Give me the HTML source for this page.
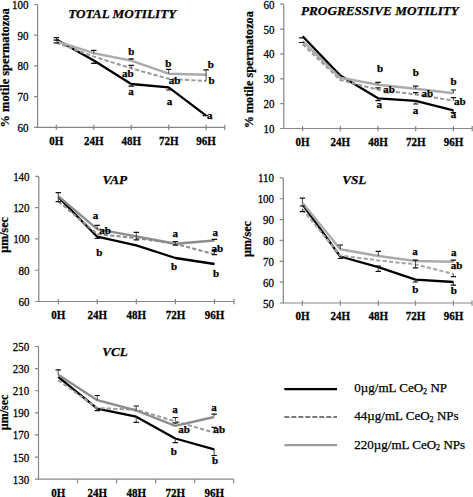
<!DOCTYPE html><html><head><meta charset="utf-8"><style>
html,body{margin:0;padding:0;background:#fff;width:473px;height:497px;overflow:hidden}
svg{display:block}
text{font-family:"Liberation Serif",serif;fill:#000;stroke:#000;stroke-width:0.25px}
.tl{font-size:11px;text-anchor:end}
.xl{font-size:11px;font-weight:bold;text-anchor:middle}
.tt{font-size:13.2px;font-weight:bold;font-style:italic}
.yl{font-weight:bold;text-anchor:middle}
.lb{font-size:11px;font-weight:bold;text-anchor:middle}
.lg{font-size:13px}
</style></head><body>
<svg width="473" height="497" viewBox="0 0 473 497">
<rect width="473" height="497" fill="#fff"/>
<g><path d="M37.6 4.5V127.3H224.8" fill="none" stroke="#868686" stroke-width="1.2"/><text class="tl" transform="translate(28.4 131.8) scale(1 1.12)">60</text><text class="tl" transform="translate(28.4 101.1) scale(1 1.12)">70</text><text class="tl" transform="translate(28.4 70.4) scale(1 1.12)">80</text><text class="tl" transform="translate(28.4 39.7) scale(1 1.12)">90</text><text class="tl" transform="translate(28.4 9) scale(1 1.12)">100</text><path d="M34 127.3H37.6M34 96.6H37.6M34 65.9H37.6M34 35.2H37.6M34 4.5H37.6M56.3 124.7V130.1M93.8 124.7V130.1M131.2 124.7V130.1M168.7 124.7V130.1M206.1 124.7V130.1M224.8 124.7V130.1" fill="none" stroke="#868686" stroke-width="1.2"/><text class="xl" transform="translate(56.3 144.6) scale(1 1.06)">0H</text><text class="xl" transform="translate(93.8 144.6) scale(1 1.06)">24H</text><text class="xl" transform="translate(131.2 144.6) scale(1 1.06)">48H</text><text class="xl" transform="translate(168.7 144.6) scale(1 1.06)">72H</text><text class="xl" transform="translate(206.1 144.6) scale(1 1.06)">96H</text><text class="tt" transform="translate(68.2 18.4) scale(1 1.0)">TOTAL MOTILITY</text><text class="yl" style="font-size:12.4px" transform="translate(8.6 67.85) rotate(-90)" x="0" y="0">% motile spermatozoa</text><polyline points="56.3,39.6 93.8,60.5 131.2,84 168.7,87.3 206.1,115.6" fill="none" stroke="#000" stroke-width="2.3" stroke-linejoin="round"/><polyline points="56.3,42.6 93.8,56.6 131.2,68.3 168.7,78.8 206.1,81" fill="none" stroke="#9a9a9a" stroke-width="2" stroke-dasharray="4.2 2.2"/><polyline points="56.3,41.2 93.8,53.2 131.2,60.6 168.7,73.7 206.1,74.8" fill="none" stroke="#ababab" stroke-width="2.4" stroke-linejoin="round"/><path d="M56.3 41V37.6M93.8 53.5V50.3M93.8 60V63.3M131.2 60V58.8M131.2 68.3V65.3M131.2 84V86.2M168.7 73.7V69.4M168.7 87.7V90M206.1 81V69.8" fill="none" stroke="#333" stroke-width="0.9"/><path d="M53.6 37.6H59M53.6 40.2H59M53.6 42.8H59M91.1 50.3H96.5M91.1 63.3H96.5M128.5 58.8H133.9M128.5 65.3H133.9M128.5 86.2H133.9M166 69.4H171.4M166 90H171.4M203.4 69.8H208.8M202.7 115.6H208.1" fill="none" stroke="#111" stroke-width="1.2"/><text class="lb" transform="translate(131.3 55.3) scale(1 1.0)">b</text><text class="lb" transform="translate(127.9 77.3) scale(1 1.0)">ab</text><text class="lb" transform="translate(131.1 95.2) scale(1 1.0)">a</text><text class="lb" transform="translate(168.3 67.2) scale(1 1.0)">b</text><text class="lb" transform="translate(174.6 83.8) scale(1 1.0)">ab</text><text class="lb" transform="translate(169.5 104.6) scale(1 1.0)">a</text><text class="lb" transform="translate(210.8 67.9) scale(1 1.0)">b</text><text class="lb" transform="translate(211.6 84.1) scale(1 1.0)">b</text><text class="lb" transform="translate(209.7 118.8) scale(1 1.0)">a</text></g>
<g><path d="M283.8 4.2V128.5H472.2" fill="none" stroke="#868686" stroke-width="1.2"/><text class="tl" transform="translate(274.6 133) scale(1 1.12)">10</text><text class="tl" transform="translate(274.6 108.14) scale(1 1.12)">20</text><text class="tl" transform="translate(274.6 83.28) scale(1 1.12)">30</text><text class="tl" transform="translate(274.6 58.42) scale(1 1.12)">40</text><text class="tl" transform="translate(274.6 33.56) scale(1 1.12)">50</text><text class="tl" transform="translate(274.6 8.7) scale(1 1.12)">60</text><path d="M280.2 128.5H283.8M280.2 103.64H283.8M280.2 78.78H283.8M280.2 53.92H283.8M280.2 29.06H283.8M280.2 4.2H283.8M302.6 125.9V131.3M340.3 125.9V131.3M378 125.9V131.3M415.7 125.9V131.3M453.4 125.9V131.3M472.2 125.9V131.3" fill="none" stroke="#868686" stroke-width="1.2"/><text class="xl" transform="translate(302.6 145.8) scale(1 1.06)">0H</text><text class="xl" transform="translate(340.3 145.8) scale(1 1.06)">24H</text><text class="xl" transform="translate(378 145.8) scale(1 1.06)">48H</text><text class="xl" transform="translate(415.7 145.8) scale(1 1.06)">72H</text><text class="xl" transform="translate(453.4 145.8) scale(1 1.06)">96H</text><text class="tt" transform="translate(301 15.1) scale(1 1.0)">PROGRESSIVE MOTILITY</text><text class="yl" style="font-size:12.2px" transform="translate(252.6 69.8) rotate(-90)" x="0" y="0">% motile spermatozoa</text><polyline points="302.6,36.3 340.3,75.6 378,98.3 415.7,100.8 453.4,110.3" fill="none" stroke="#000" stroke-width="2.3" stroke-linejoin="round"/><polyline points="302.6,44.2 340.3,80 378,89.7 415.7,94.5 453.4,100.6" fill="none" stroke="#9a9a9a" stroke-width="2" stroke-dasharray="4.2 2.2"/><polyline points="302.6,41.1 340.3,77.8 378,84.7 415.7,88.7 453.4,93.2" fill="none" stroke="#ababab" stroke-width="2.4" stroke-linejoin="round"/><path d="M378 84.7V82.4M378 89.7V87.9M378 98.4V100.6M415.7 88.8V86.2M415.7 94.5V92.6M415.7 100.8V104M453.4 93.2V90M453.4 100.6V97.7M453.4 110.4V112.5" fill="none" stroke="#333" stroke-width="0.9"/><path d="M298.9 37.9H304.3M298.9 42.5H304.3M375.3 82.4H380.7M375.3 87.9H380.7M375.3 100.6H380.7M413 86.2H418.4M413 92.6H418.4M413 104H418.4M450.7 90H456.1M450.7 97.7H456.1M450.7 112.5H456.1" fill="none" stroke="#111" stroke-width="1.2"/><text class="lb" transform="translate(380 72.3) scale(1 1.0)">b</text><text class="lb" transform="translate(389 93.4) scale(1 1.0)">ab</text><text class="lb" transform="translate(379.3 108.3) scale(1 1.0)">a</text><text class="lb" transform="translate(415.9 76) scale(1 1.0)">b</text><text class="lb" transform="translate(427.2 96.5) scale(1 1.0)">ab</text><text class="lb" transform="translate(415.6 114) scale(1 1.0)">a</text><text class="lb" transform="translate(453.6 84.5) scale(1 1.0)">b</text><text class="lb" transform="translate(459.7 104.9) scale(1 1.0)">ab</text><text class="lb" transform="translate(453.6 117.8) scale(1 1.0)">a</text></g>
<g><path d="M38.8 176.4V301.5H234" fill="none" stroke="#868686" stroke-width="1.2"/><text class="tl" transform="translate(29.6 306) scale(1 1.12)">60</text><text class="tl" transform="translate(29.6 274.73) scale(1 1.12)">80</text><text class="tl" transform="translate(29.6 243.45) scale(1 1.12)">100</text><text class="tl" transform="translate(29.6 212.18) scale(1 1.12)">120</text><text class="tl" transform="translate(29.6 180.9) scale(1 1.12)">140</text><path d="M35.2 301.5H38.8M35.2 270.23H38.8M35.2 238.95H38.8M35.2 207.68H38.8M35.2 176.4H38.8M58.3 298.9V304.3M97.2 298.9V304.3M136.3 298.9V304.3M175.4 298.9V304.3M214.5 298.9V304.3M234 298.9V304.3" fill="none" stroke="#868686" stroke-width="1.2"/><text class="xl" transform="translate(58.3 318.8) scale(1 1.06)">0H</text><text class="xl" transform="translate(97.2 318.8) scale(1 1.06)">24H</text><text class="xl" transform="translate(136.3 318.8) scale(1 1.06)">48H</text><text class="xl" transform="translate(175.4 318.8) scale(1 1.06)">72H</text><text class="xl" transform="translate(214.5 318.8) scale(1 1.06)">96H</text><text class="tt" transform="translate(102.4 184.4) scale(1 1.0)">VAP</text><text class="yl" style="font-size:12px" transform="translate(8.4 235) rotate(-90)" x="0" y="0">µm/sec</text><polyline points="58.3,196.9 97.2,236.7 136.3,245.4 175.4,258 214.5,264" fill="none" stroke="#000" stroke-width="2.3" stroke-linejoin="round"/><polyline points="58.3,201.2 97.2,234.1 136.3,238.1 175.4,243.7 214.5,254.4" fill="none" stroke="#8c8c8c" stroke-width="2" stroke-dasharray="4.2 2.2"/><polyline points="58.3,196.1 97.2,229.1 136.3,236.4 175.4,243.7 214.5,240.5" fill="none" stroke="#8c8c8c" stroke-width="2.4" stroke-linejoin="round"/><path d="M58.3 196.5V192.7M58.3 197V201.7M97.2 229V225.3M97.2 236.7V238.5M136.3 236.5V232.4M136.3 236.5V239.8M175.4 243.5V241.5M175.4 243.5V245.1M214.5 240V239.4M214.5 253V250M214.5 253V254.6" fill="none" stroke="#333" stroke-width="0.9"/><path d="M55.6 192.7H61M55.6 201.7H61M94.5 225.3H99.9M94.5 238.5H99.9M133.6 232.4H139M133.6 239.8H139M172.7 241.5H178.1M172.7 245.1H178.1M211.8 239.4H217.2M211.8 250H217.2M211.8 254.6H217.2" fill="none" stroke="#111" stroke-width="1.2"/><text class="lb" transform="translate(95.4 219.4) scale(1 1.0)">a</text><text class="lb" transform="translate(105.1 233.8) scale(1 1.0)">ab</text><text class="lb" transform="translate(99.3 255.7) scale(1 1.0)">b</text><text class="lb" transform="translate(175.2 237) scale(1 1.0)">a</text><text class="lb" transform="translate(174 270.3) scale(1 1.0)">b</text><text class="lb" transform="translate(215.3 235.5) scale(1 1.0)">a</text><text class="lb" transform="translate(217.3 252) scale(1 1.0)">ab</text><text class="lb" transform="translate(216 277.1) scale(1 1.0)">b</text></g>
<g><path d="M283.3 177.9V303H472" fill="none" stroke="#868686" stroke-width="1.2"/><text class="tl" transform="translate(274.1 307.5) scale(1 1.12)">50</text><text class="tl" transform="translate(274.1 286.65) scale(1 1.12)">60</text><text class="tl" transform="translate(274.1 265.8) scale(1 1.12)">70</text><text class="tl" transform="translate(274.1 244.95) scale(1 1.12)">80</text><text class="tl" transform="translate(274.1 224.1) scale(1 1.12)">90</text><text class="tl" transform="translate(274.1 203.25) scale(1 1.12)">100</text><text class="tl" transform="translate(274.1 182.4) scale(1 1.12)">110</text><path d="M279.7 303H283.3M279.7 282.15H283.3M279.7 261.3H283.3M279.7 240.45H283.3M279.7 219.6H283.3M279.7 198.75H283.3M279.7 177.9H283.3M302.4 300.4V305.8M340.3 300.4V305.8M378.3 300.4V305.8M415.5 300.4V305.8M453.4 300.4V305.8M472 300.4V305.8" fill="none" stroke="#868686" stroke-width="1.2"/><text class="xl" transform="translate(302.4 320.3) scale(1 1.06)">0H</text><text class="xl" transform="translate(340.3 320.3) scale(1 1.06)">24H</text><text class="xl" transform="translate(378.3 320.3) scale(1 1.06)">48H</text><text class="xl" transform="translate(415.5 320.3) scale(1 1.06)">72H</text><text class="xl" transform="translate(453.4 320.3) scale(1 1.06)">96H</text><text class="tt" transform="translate(342.2 184.4) scale(1 1.0)">VSL</text><text class="yl" style="font-size:12.1px" transform="translate(250.8 239) rotate(-90)" x="0" y="0">µm/sec</text><polyline points="302.4,204.4 340.3,256.5 378.3,267.1 415.5,279.6 453.4,282" fill="none" stroke="#000" stroke-width="2.3" stroke-linejoin="round"/><polyline points="302.4,209.3 340.3,255.5 378.3,260.4 415.5,264.4 453.4,273.9" fill="none" stroke="#a5a5a5" stroke-width="2" stroke-dasharray="4.2 2.2"/><polyline points="302.4,202.7 340.3,249.2 378.3,256 415.5,261 453.4,261.7" fill="none" stroke="#ababab" stroke-width="2.4" stroke-linejoin="round"/><path d="M302.4 203V198.1M302.4 208.6V211.7M340.3 249.2V245M340.3 256.5V258.5M378.3 256V251.3M378.3 267.1V266.1M378.3 267.1V271.4M415.5 263.6V260.2M415.5 263.6V267.8M415.5 279.6V282M453.4 261.7V260.2M453.4 274V276.7M453.4 282V285.2" fill="none" stroke="#333" stroke-width="0.9"/><path d="M299.7 198.1H305.1M299.7 206H305.1M299.7 211.7H305.1M337.6 245H343M337.6 258.5H343M375.6 251.3H381M375.6 266.1H381M375.6 271.4H381M412.8 260.2H418.2M412.8 267.8H418.2M412.8 282H418.2M450.7 260.2H456.1M450.7 276.7H456.1M450.7 285.2H456.1" fill="none" stroke="#111" stroke-width="1.2"/><text class="lb" transform="translate(415 254.7) scale(1 1.0)">a</text><text class="lb" transform="translate(415.3 292.6) scale(1 1.0)">b</text><text class="lb" transform="translate(453.7 256.4) scale(1 1.0)">a</text><text class="lb" transform="translate(456.5 269.1) scale(1 1.0)">ab</text><text class="lb" transform="translate(453.8 293.8) scale(1 1.0)">b</text></g>
<g><path d="M38.5 346.5V479.2H233.7" fill="none" stroke="#868686" stroke-width="1.2"/><text class="tl" transform="translate(29.3 483.7) scale(1 1.12)">130</text><text class="tl" transform="translate(29.3 461.58) scale(1 1.12)">150</text><text class="tl" transform="translate(29.3 439.47) scale(1 1.12)">170</text><text class="tl" transform="translate(29.3 417.35) scale(1 1.12)">190</text><text class="tl" transform="translate(29.3 395.23) scale(1 1.12)">210</text><text class="tl" transform="translate(29.3 373.12) scale(1 1.12)">230</text><text class="tl" transform="translate(29.3 351) scale(1 1.12)">250</text><path d="M34.9 479.2H38.5M34.9 457.08H38.5M34.9 434.97H38.5M34.9 412.85H38.5M34.9 390.73H38.5M34.9 368.62H38.5M34.9 346.5H38.5M77.54 479.2V483.2M116.58 479.2V483.2M155.62 479.2V483.2M194.66 479.2V483.2M233.7 479.2V483.2" fill="none" stroke="#868686" stroke-width="1.2"/><text class="xl" transform="translate(58.2 496.5) scale(1 1.06)">0H</text><text class="xl" transform="translate(97.3 496.5) scale(1 1.06)">24H</text><text class="xl" transform="translate(136.2 496.5) scale(1 1.06)">48H</text><text class="xl" transform="translate(175.3 496.5) scale(1 1.06)">72H</text><text class="xl" transform="translate(214.2 496.5) scale(1 1.06)">96H</text><text class="tt" transform="translate(102.2 356) scale(1 1.0)">VCL</text><text class="yl" style="font-size:12px" transform="translate(8.2 412.5) rotate(-90)" x="0" y="0">µm/sec</text><polyline points="58.2,376.9 97.3,408.6 136.2,416.7 175.3,438.5 214.2,449.4" fill="none" stroke="#000" stroke-width="2.3" stroke-linejoin="round"/><polyline points="58.2,380.1 97.3,408 136.2,409.7 175.3,421.3 214.2,432.6" fill="none" stroke="#9a9a9a" stroke-width="2" stroke-dasharray="4.2 2.2"/><polyline points="58.2,374.8 97.3,400.2 136.2,410.5 175.3,425.8 214.2,417" fill="none" stroke="#8c8c8c" stroke-width="2.4" stroke-linejoin="round"/><path d="M58.2 374.8V369.9M97.3 400.2V395.5M97.3 408.6V410.7M136.2 410.5V406M136.2 416.7V422.4M175.3 421.3V417.5M175.3 424V422.9M175.3 439.5V442.6M214.2 416.2V414.1M214.2 432.7V427.4M214.2 449V455.5" fill="none" stroke="#333" stroke-width="0.9"/><path d="M55.5 369.9H60.9M94.6 395.5H100M94.6 410.7H100M133.5 406H138.9M133.5 422.4H138.9M172.6 417.5H178M172.6 422.9H178M172.6 442.6H178M211.5 414.1H216.9M211.5 427.4H216.9M211.5 455.5H216.9" fill="none" stroke="#111" stroke-width="1.2"/><text class="lb" transform="translate(174.9 413) scale(1 1.0)">a</text><text class="lb" transform="translate(184 433.2) scale(1 1.0)">ab</text><text class="lb" transform="translate(173.7 454.8) scale(1 1.0)">b</text><text class="lb" transform="translate(214 410.6) scale(1 1.0)">a</text><text class="lb" transform="translate(219.3 433.3) scale(1 1.0)">ab</text><text class="lb" transform="translate(215 463.8) scale(1 1.0)">b</text></g>
<path d="M284.3 389.2H337" stroke="#000" stroke-width="2.3"/>
<text class="lg" x="354.3" y="392.1">0µg/mL CeO<tspan font-size="8.2" dy="1.6">2</tspan><tspan dy="-1.6"> NP</tspan></text>
<path d="M284.3 416.9H337" stroke="#7a7a7a" stroke-width="2" stroke-dasharray="5 2"/>
<text class="lg" x="354.3" y="420.1">44µg/mL CeO<tspan font-size="8.2" dy="1.6">2</tspan><tspan dy="-1.6"> NPs</tspan></text>
<path d="M284.3 445.2H337" stroke="#9a9a9a" stroke-width="2.3"/>
<text class="lg" x="354.3" y="448.7">220µg/mL CeO<tspan font-size="8.2" dy="1.6">2</tspan><tspan dy="-1.6"> NPs</tspan></text>
</svg></body></html>
